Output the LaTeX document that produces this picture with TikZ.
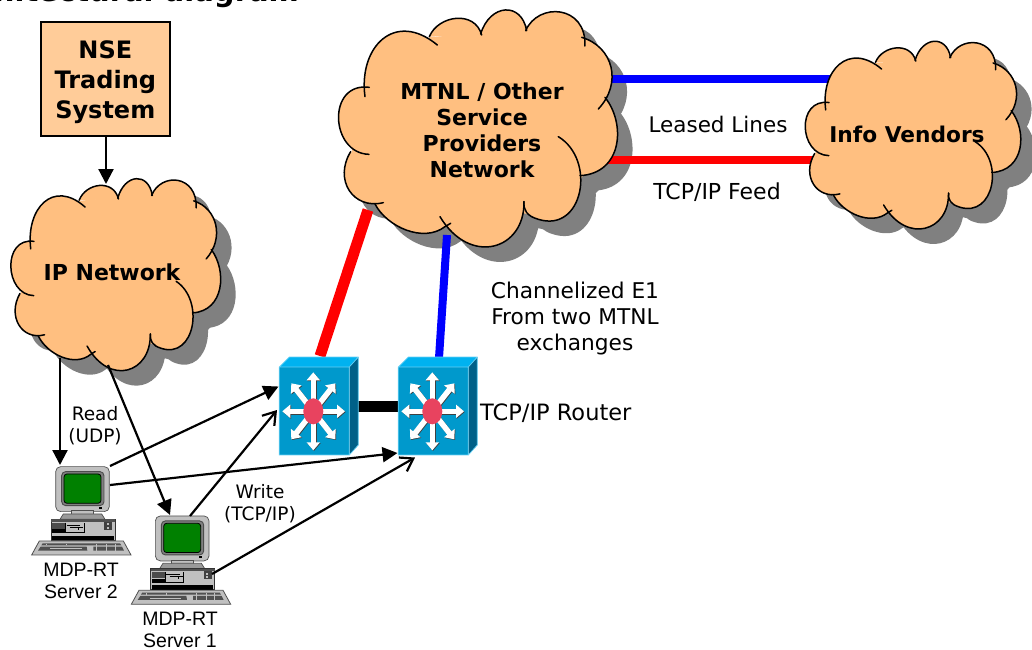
\documentclass[tikz,border=0pt]{standalone}
\usepackage{fontspec}
\setmainfont{DejaVu Sans}
\newfontfamily\arialf{Liberation Sans}
\usetikzlibrary{arrows.meta}
\definecolor{cloudfill}{HTML}{FFBF80}
\definecolor{boxfill}{HTML}{FFCC99}
\definecolor{shadowgrey}{HTML}{808080}
\definecolor{rfront}{HTML}{0099CC}
\definecolor{rtop}{HTML}{00B2F0}
\definecolor{rside}{HTML}{006088}
\definecolor{redball}{HTML}{E8435F}
\definecolor{thickblue}{HTML}{0000FF}
\definecolor{thickred}{HTML}{FF0000}
\definecolor{pcgrey}{HTML}{C0C0C0}
\definecolor{pcdark}{HTML}{505050}
\definecolor{pcgreen}{HTML}{008000}
\tikzset{
  cloudlabel/.style={font=\bfseries\fontsize{#1}{#1}\selectfont,align=center,inner sep=0pt},
  plainlabel/.style={font=\fontsize{#1}{#1}\selectfont,align=center,inner sep=0pt},
  pclabel/.style={font=\arialf\fontsize{19.5}{19.5}\selectfont,align=center,inner sep=0pt},
  feed/.style={line width=2.2pt,-{Triangle[length=15pt,width=15pt]}},
  feedopen/.style={line width=2.2pt,-{Straight Barb[length=12pt,width=16pt,line width=2.2pt]}},
  anchorbox/.style={minimum width=#1,inner sep=0pt,outer sep=0pt}
}
% cloud shape, in units of a 835 x 720 box
\def\lobeA{(105,260) .. controls (85,110) and (195,0) .. (322,105)}
\def\lobeB{(298,80) .. controls (325,15) and (435,0) .. (455,75)}
\def\lobeC{(452,72) .. controls (480,-20) and (575,-25) .. (590,62)}
\def\lobeD{(587,62) .. controls (625,-25) and (770,-15) .. (765,108)}
\def\lobeE{(755,82) .. controls (850,110) and (878,220) .. (805,297)}
\def\lobeF{(825,262) .. controls (888,340) and (878,490) .. (750,497)}
\def\lobeG{(685,380) .. controls (800,450) and (760,670) .. (625,628) .. controls (590,618) and (580,600) .. (582,575)}
\def\lobeH{(582,575) .. controls (585,720) and (420,770) .. (330,620)}
\def\lobeI{(362,640) -- (345,650) .. controls (280,700) and (170,650) .. (135,582)}
\def\lobeJ{(160,578) .. controls (70,600) and (10,510) .. (62,425)}
\def\lobeK{(117,433) .. controls (0,430) and (-10,215) .. (118,232)}
\def\cloudcore{(104,236) -- (298,82) -- (455,68) -- (588,58) -- (760,86) -- (825,262) -- (766,490) -- (640,624) -- (582,610) -- (345,648) -- (140,585) -- (64,428) -- cycle}
\newcommand{\cloudfillin}[1]{%
  \fill[#1] \cloudcore;
  \fill[#1] \lobeA -- cycle; \fill[#1] \lobeB -- cycle; \fill[#1] \lobeC -- cycle;
  \fill[#1] \lobeD -- cycle; \fill[#1] \lobeE -- cycle; \fill[#1] \lobeF -- cycle;
  \fill[#1] \lobeG -- cycle; \fill[#1] \lobeH -- cycle; \fill[#1] \lobeI -- cycle;
  \fill[#1] \lobeJ -- cycle; \fill[#1] \lobeK -- cycle;}
% #1 ox #2 oy #3 sx #4 sy
\newcommand{\cloudshadow}[4]{\begin{scope}[x=#3pt,y=-#4pt,shift={(#1/#3+15/#3,#2/#4+15/#4)}]\cloudfillin{shadowgrey}\end{scope}}
\newcommand{\cloudbody}[4]{\begin{scope}[x=#3pt,y=-#4pt,shift={(#1/#3,#2/#4)}]
  \cloudfillin{cloudfill}
  \draw[line width=1.5pt,black,line cap=round] \lobeA; \draw[line width=1.5pt,line cap=round] \lobeB; \draw[line width=1.5pt,line cap=round] \lobeC;
  \draw[line width=1.5pt,line cap=round] \lobeD; \draw[line width=1.5pt,line cap=round] \lobeE; \draw[line width=1.5pt,line cap=round] \lobeF;
  \draw[line width=1.5pt,line cap=round] \lobeG; \draw[line width=1.5pt,line cap=round] \lobeH; \draw[line width=1.5pt,line cap=round] \lobeI;
  \draw[line width=1.5pt,line cap=round] \lobeJ; \draw[line width=1.5pt,line cap=round] \lobeK;
\end{scope}}
% router: #1,#2 = top-left of the front face
\newcommand{\routerbody}[2]{\begin{scope}[shift={(#1,#2)}]
  \fill[rtop] (0,0) -- (10,-10) -- (79,-10) -- (70,0) -- cycle;
  \fill[rside] (70,0) -- (79,-10) -- (79,78) -- (70,88) -- cycle;
  \fill[rfront] (0,0) rectangle (70,88);
  \draw[line width=.7pt,rtop!60!white] (0,0) -- (10,-10) -- (79,-10) -- (79,78) -- (70,88) -- (0,88) -- cycle (0,0) -- (70,0) -- (70,88) (70,0) -- (79,-10);
  \foreach \tx/\ty in {31.7/0,-31/0,0/-39,0/39,-22/-28,22/-28,-22/28,22/28}{
    \draw[line width=5.5pt,black!75,-{Triangle[length=8pt,width=13pt]}] (34.7,45) -- ++(\tx,\ty);
  }
  \foreach \tx/\ty in {31.7/0,-31/0,0/-39,0/39,-22/-28,22/-28,-22/28,22/28}{
    \draw[line width=5.5pt,white,-{Triangle[length=8pt,width=13pt]}] (34,44.3) -- ++(\tx,\ty);
  }
  \fill[redball] (34,44.3) ellipse (10 and 13);
\end{scope}}
% computer: #1,#2 = offset, drawn in 1/3 px units
\newcommand{\pcbody}[2]{\begin{scope}[x=.3333pt,y=-.3333pt,shift={(#1*3,#2*3)}]
  \draw[line width=.7pt,pcdark,fill=pcgrey,rounded corners=5pt] (167,80) rectangle (328,215);
  \draw[line width=.9pt,black!70,fill=shadowgrey,rounded corners=4pt] (185,95) rectangle (312,197);
  \draw[line width=.8pt,black,fill=pcgreen,rounded corners=3pt] (192,102) rectangle (303,190);
  \fill[black] (298,201) rectangle (306,206);
  \draw[line width=.6pt,pcdark,fill=pcgrey] (215,212) rectangle (280,224);
  \draw[line width=.7pt,pcdark,fill=pcgrey!80!black] (180,238) -- (190,222) -- (305,222) -- (315,238) -- cycle;
  \draw[line width=.9pt,black!80,fill=pcgrey] (153,238) rectangle (345,302);
  \fill[pcdark] (153,238) rectangle (345,246);
  \fill[black!70] (157,248) rectangle (195,266);
  \fill[black] (157,268) rectangle (195,280);
  \fill[black] (157,288) rectangle (341,301);
  \draw[line width=.8pt,black] (197,248) -- (197,278) -- (252,278) -- (252,248) (200,255) -- (240,255) (210,262) -- (250,262) (235,262) -- (235,270);
  \fill[black!75] (312,246) rectangle (336,270);
  \fill[pcgrey] (320,250) rectangle (326,256);
  \fill[pcgrey] (320,260) rectangle (326,266);
  \draw[line width=.8pt,pcdark,fill=pcgrey] (118,303) -- (370,303) -- (393,345) -- (95,345) -- cycle;
  \fill[pcdark] (128,310) -- (360,310) -- (364,316) -- (124,316) -- cycle;
  \fill[pcdark] (122,320) -- (260,320) -- (262,332) -- (114,332) -- cycle;
  \fill[pcdark] (280,320) -- (366,320) -- (372,332) -- (280,332) -- cycle;
  \draw[line width=.6pt,pcgrey] (150,326) -- (245,326) (140,311) -- (140,316) (200,311) -- (200,316) (290,311) -- (290,332) (320,311) -- (320,332) (345,311) -- (345,332);
\end{scope}}
\begin{document}
\begin{tikzpicture}[x=1pt,y=-1pt]
\useasboundingbox (0,0) rectangle (1032,649);
\fill[white] (0,0) rectangle (1032,649);
\begin{scope}
\clip (0,0) rectangle (1032,649);
\node[cloudlabel=29,anchor=base east] (title) at (299,1) {Architectural diagram};
\end{scope}

% cloud shadows
\cloudshadow{330}{10}{.3333}{.3333}
\cloudshadow{798.6}{41.3}{.2575}{.264}
\cloudshadow{4.4}{178.7}{.2507}{.27}

% anchors for the connectors
\node[anchorbox=129pt,minimum height=114pt] (nse) at (105.3,78.8) {};
\node[anchorbox=278pt,minimum height=240pt] (mtnl) at (477,130) {};
\node[anchorbox=215pt,minimum height=190pt] (info) at (913,135) {};
\node[anchorbox=209pt,minimum height=194pt] (ip) at (115,274) {};
\node[anchorbox=70pt,minimum height=88pt] (r1) at (314.3,411) {};
\node[anchorbox=70pt,minimum height=88pt] (r2) at (433.3,411) {};
\coordinate (ipin) at (106,184);
\coordinate (ipoutA) at (60,358);
\coordinate (ipoutB) at (108,365);
\coordinate (sAin) at (60,465);
\coordinate (sBin) at (170,515);
\coordinate (sAoutA) at (110,466);
\coordinate (sAoutB) at (110,485);
\coordinate (sBoutA) at (190,516);
\coordinate (sBoutB) at (212,574);
\coordinate (rAinA) at (278.5,386.5);
\coordinate (rBinA) at (397.5,453);
\coordinate (rAinB) at (277,410);
\coordinate (rBinB) at (415,457.5);
\coordinate (rAtop) at (320,356);
\coordinate (mtnlred) at (368,210);
\coordinate (rBtop) at (439,358);
\coordinate (mtnlblue) at (447,235);
\coordinate (mtnlE1) at (600,79);
\coordinate (infoE1) at (835,79);
\coordinate (mtnlE2) at (600,160);
\coordinate (infoE2) at (818,160);
\coordinate (rAside) at (355,406.5);
\coordinate (rBside) at (400,406.5);

% thick links
\draw[thickred,line width=8pt] (mtnlE2) -- (infoE2);
\draw[thickblue,line width=8pt] (mtnlE1) -- (infoE1);
\draw[thickred,line width=11pt] (rAtop) -- (mtnlred);
\draw[thickblue,line width=8pt] (rBtop) -- (mtnlblue);
\draw[black,line width=11.5pt] (rAside) -- (rBside);

% clouds
\cloudbody{330}{10}{.3333}{.3333}
\cloudbody{798.6}{41.3}{.2575}{.264}
\cloudbody{4.4}{178.7}{.2507}{.27}
\routerbody{279.3}{367}
\routerbody{398.3}{367}

\draw[black,line width=1.7pt,fill=boxfill] (nse.north west) rectangle (nse.south east);
\node[cloudlabel=24] (nsetext) at (105.3,82.5) {NSE\\[6pt]Trading\\[6pt]System};
\node[cloudlabel=22] (mtnltext) at (482,130.5) {MTNL / Other\\[4pt]Service\\[4pt]Providers\\[4pt]Network};
\node[cloudlabel=21.7] (infotext) at (907,134) {Info Vendors};
\node[cloudlabel=22] (iptext) at (112,272) {IP Network};

% computers
\pcbody{0}{440}
\pcbody{99.7}{489.3}
\node[anchorbox=100pt,minimum height=90pt] (sA) at (81,505) {};
\node[anchorbox=100pt,minimum height=90pt] (sB) at (180.7,554) {};

% thin links
\draw[feed] (nse.south -| ipin) -- (ipin);
\draw[feed] (ipoutA) -- (sAin);
\draw[feed] (ipoutB) -- (sBin);
\draw[feed] (sAoutA) -- (rAinA);
\draw[feed] (sAoutB) -- (rBinA);
\draw[feedopen] (sBoutA) -- (rAinB);
\draw[feedopen] (sBoutB) -- (rBinB);

% labels
\node[plainlabel=21.5] (leased) at (718,124) {Leased Lines};
\node[plainlabel=22] (tcpfeed) at (717,192) {TCP/IP Feed};
\node[plainlabel=21.7] (chan) at (575,318.5) {Channelized E1\\[4.5pt]From two MTNL\\[4.5pt]exchanges};
\node[plainlabel=22.5,anchor=west] (routertext) at (480,413) {TCP/IP Router};
\node[plainlabel=18.5] (readlbl) at (95,425.5) {Read\\[4pt](UDP)};
\node[plainlabel=18.5] (writelbl) at (260,503.5) {Write\\[4pt](TCP/IP)};
\node[pclabel] (s2lbl) at (81,581) {MDP-RT\\[2.5pt]Server 2};
\node[pclabel] (s1lbl) at (180,630) {MDP-RT\\[2.5pt]Server 1};
\end{tikzpicture}
\end{document}
